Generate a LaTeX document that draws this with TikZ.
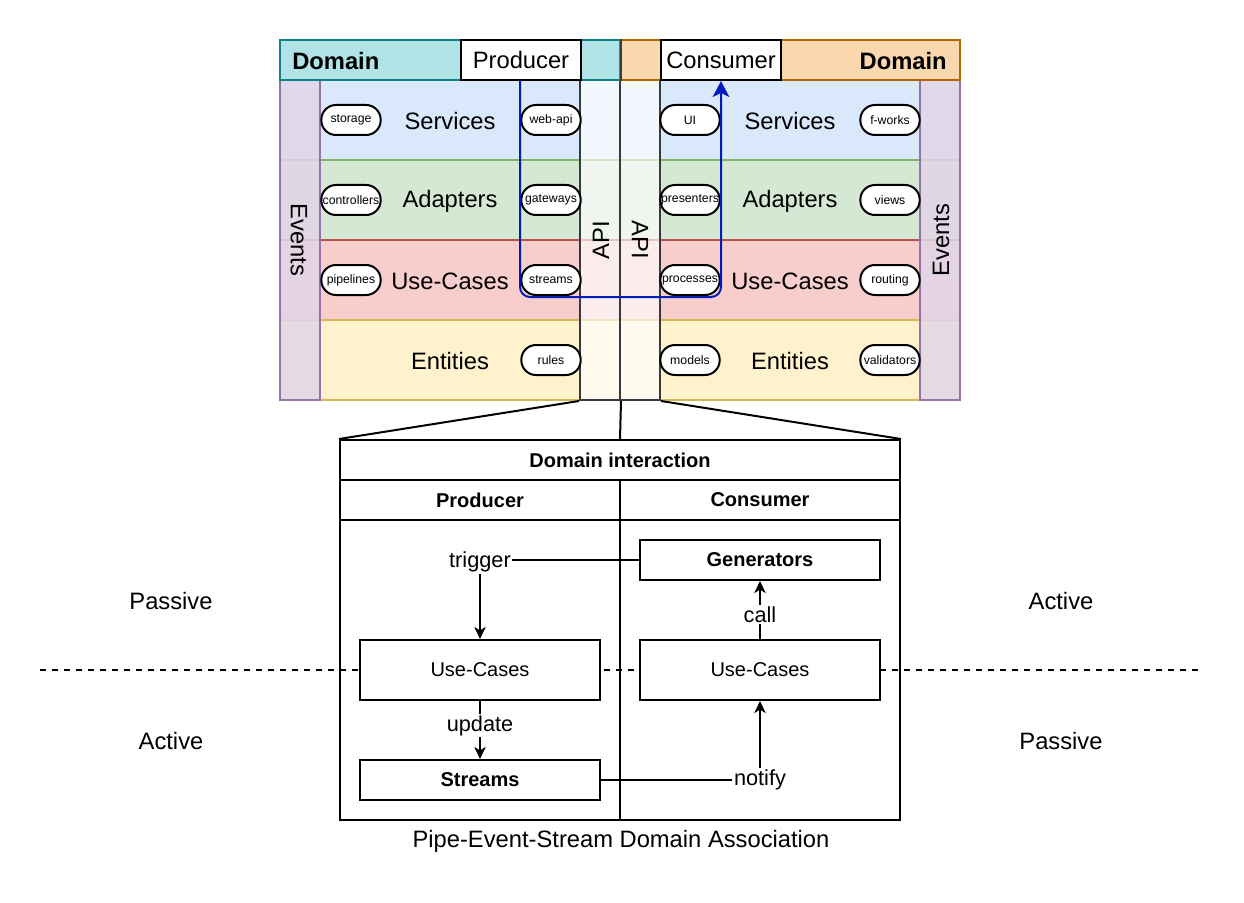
\documentclass[tikz,border=0pt]{standalone}
\usepackage{fontspec}
\setmainfont{Liberation Sans}
\usetikzlibrary{arrows.meta}
\definecolor{svcF}{HTML}{DAE8FC}\definecolor{svcD}{HTML}{6C8EBF}
\definecolor{adpF}{HTML}{D5E8D4}\definecolor{adpD}{HTML}{82B366}
\definecolor{ucF}{HTML}{F8CECC}\definecolor{ucD}{HTML}{B85450}
\definecolor{entF}{HTML}{FFF2CC}\definecolor{entD}{HTML}{D6B656}
\definecolor{evF}{HTML}{E1D5E7}\definecolor{evD}{HTML}{9673A6}
\definecolor{tealF}{HTML}{B0E3E6}\definecolor{tealD}{HTML}{0E8088}
\definecolor{orgF}{HTML}{FAD7AC}\definecolor{orgD}{HTML}{B46504}
\definecolor{apiD}{HTML}{36393D}
\definecolor{flowblue}{HTML}{001DBC}
\newcommand{\szL}{\fontsize{17.8}{21}\selectfont}
\newcommand{\szM}{\fontsize{15}{18}\selectfont}
\newcommand{\szE}{\fontsize{16.3}{19}\selectfont}
\newcommand{\szS}{\fontsize{9.2}{11}\selectfont}
\tikzset{
 lw/.style={line width=1.5pt},
 rowbox/.style={lw, minimum width=510pt, minimum height=60pt, inner sep=0},
 rowlabel/.style={font=\szL, inner sep=0},
 pill/.style={draw=black, fill=white, lw, rounded corners=11pt, minimum width=44.5pt, minimum height=22.5pt, inner sep=0, font=\szS},
 evcol/.style={draw=evD, fill=evF, fill opacity=0.85, lw, minimum width=30pt, minimum height=240pt, inner sep=0},
 apicol/.style={draw=apiD, fill=white, fill opacity=0.65, lw, minimum width=30pt, minimum height=240pt, inner sep=0},
 hdr/.style={lw, minimum width=255pt, minimum height=30pt, inner sep=0},
 rolebox/.style={draw=black, fill=white, lw, minimum width=90pt, minimum height=30pt, inner sep=0, font=\szL},
 cell/.style={draw=black, fill=white, lw, inner sep=0},
 box/.style={draw=black, fill=white, lw, minimum width=180pt, inner sep=0, font=\szM},
 plain/.style={font=\szE, inner sep=1pt},
 conn/.style={lw, draw=black},
 arr/.style={conn, -{Stealth[length=9pt,width=8.5pt,inset=2.5pt]}},
 flow/.style={line width=1.5pt, draw=flowblue, rounded corners=7.5pt, -{Stealth[length=12pt,width=12.5pt,inset=3pt]}},
 dashline/.style={lw, dash pattern=on 4.5pt off 4.5pt},
 side/.style={font=\szL, inner sep=0},
}
\begin{document}
\begin{tikzpicture}[x=0.75pt,y=-0.75pt]
\useasboundingbox (0,0) rectangle (1244,902);
% layer rows
\node[rowbox, draw=svcD, fill=svcF] (rowS) at (620,120) {};
\node[rowbox, draw=adpD, fill=adpF] (rowA) at (620,200) {};
\node[rowbox, draw=ucD, fill=ucF] (rowU) at (620,280) {};
\node[rowbox, draw=entD, fill=entF] (rowE) at (620,360) {};
\node[rowlabel] (lSP) at (450,121) {Services};
\node[rowlabel] (lAP) at (450,201) {Adapters};
\node[rowlabel] (lUP) at (450,281) {Use-Cases};
\node[rowlabel] (lEP) at (450,361) {Entities};
\node[rowlabel] (lSC) at (790,121) {Services};
\node[rowlabel] (lAC) at (790,201) {Adapters};
\node[rowlabel] (lUC) at (790,281) {Use-Cases};
\node[rowlabel] (lEC) at (790,361) {Entities};
% events and api columns
\node[evcol] (evL) at (300,240) {};
\node[evcol] (evR) at (940,240) {};
\node[rowlabel, rotate=-90] (evLt) at (299,240) {Events};
\node[rowlabel, rotate=90] (evRt) at (941,240) {Events};
\node[apicol] (apiL) at (600,240) {};
\node[apicol] (apiR) at (640,240) {};
\node[rowlabel, rotate=90] (apiLt) at (601,240) {API};
\node[rowlabel, rotate=-90] (apiRt) at (640,240) {API};
% headers
\node[hdr, draw=tealD, fill=tealF] (hdrL) at (450,60) {};
\node[hdr, draw=orgD, fill=orgF] (hdrR) at (790,60) {};
\node[rowlabel, font=\szL\bfseries, anchor=west] (domL) at (292,61) {Domain};
\node[rowlabel, font=\szL\bfseries, anchor=east] (domR) at (947,61) {Domain};
\node[rolebox] (prod) at (521,60) {Producer};
\node[rolebox] (cons) at (721,60) {Consumer};
\draw[lw, draw=apiD] (hdrL.north east) -- (hdrL.south east);
% pills
\node[pill] (pStorage) at (351,120) {storage};
\node[pill] (pWebapi) at (551,120) {web-api};
\node[pill] (pCtrl) at (351,200) {controllers};
\node[pill] (pGate) at (551,200) {gateways};
\node[pill] (pPipe) at (351,280) {pipelines};
\node[pill] (pStreams) at (551,280) {streams};
\node[pill] (pRules) at (551,360) {rules};
\node[pill] (pUI) at (690,120) {UI};
\node[pill] (pFw) at (890,120) {f-works};
\node[pill] (pPres) at (690,200) {presenters};
\node[pill] (pViews) at (890,200) {views};
\node[pill] (pProc) at (690,280) {processes};
\node[pill] (pRout) at (890,280) {routing};
\node[pill] (pModels) at (690,360) {models};
\node[pill] (pValid) at (890,360) {validators};
% blue flow
\coordinate (bend1) at (520,297);
\coordinate (bend2) at (721,297);
\draw[flow] (prod.south -| bend1) -- (bend1) -- (bend2) -- (cons.south);
% table
\node[cell, minimum width=420pt, minimum height=30pt, font=\szM\bfseries] (title) at (620,460) {Domain interaction};
\node[cell, minimum width=210pt, minimum height=30pt, font=\szM\bfseries] (thP) at (480,500) {Producer};
\node[cell, minimum width=210pt, minimum height=30pt, font=\szM\bfseries] (thC) at (760,500) {Consumer};
\node[cell, minimum width=210pt, minimum height=225pt] (bodyP) at (480,670) {};
\node[cell, minimum width=210pt, minimum height=225pt] (bodyC) at (760,670) {};
\draw[conn] (apiL.south west) -- (title.north west);
\draw[conn] (apiR.south east) -- (title.north east);
\draw[conn] (apiL.south east) -- (title.north);
% dashed divider
\coordinate (dL) at (40,670);
\coordinate (dR) at (1200,670);
\draw[dashline] (dL) -- (dR);
% boxes
\node[box, minimum height=30pt, font=\szM\bfseries] (gen) at (760,560) {Generators};
\node[box, minimum height=45pt] (ucP) at (480,670) {Use-Cases};
\node[box, minimum height=45pt] (ucC) at (760,670) {Use-Cases};
\node[box, minimum height=30pt, font=\szM\bfseries] (str) at (480,780) {Streams};
\node[plain] (trig) at (480,562) {trigger};
\draw[conn] (gen.west) -- (trig.east |- gen.west);
\draw[arr] (trig.south) -- (ucP.north);
\draw[arr] (ucP.south) -- node[plain, fill=white, pos=0.43] (upd) {update} (str.north);
\draw[arr] (ucC.north) -- node[plain, fill=white, pos=0.42] (call) {call} (gen.south);
\node[plain] (ntf) at (760,780) {notify};
\draw[conn] (str.east) -- (ntf.west);
\draw[arr] (ntf.north) -- (ucC.south);
% side labels
\node[side] (pasL) at (171,601) {Passive};
\node[side] (actL) at (171,741) {Active};
\node[side] (actR) at (1061,601) {Active};
\node[side] (pasR) at (1061,741) {Passive};
\node[side] (cap) at (621,841) {Pipe-Event-Stream Domain Association};
\end{tikzpicture}
\end{document}
